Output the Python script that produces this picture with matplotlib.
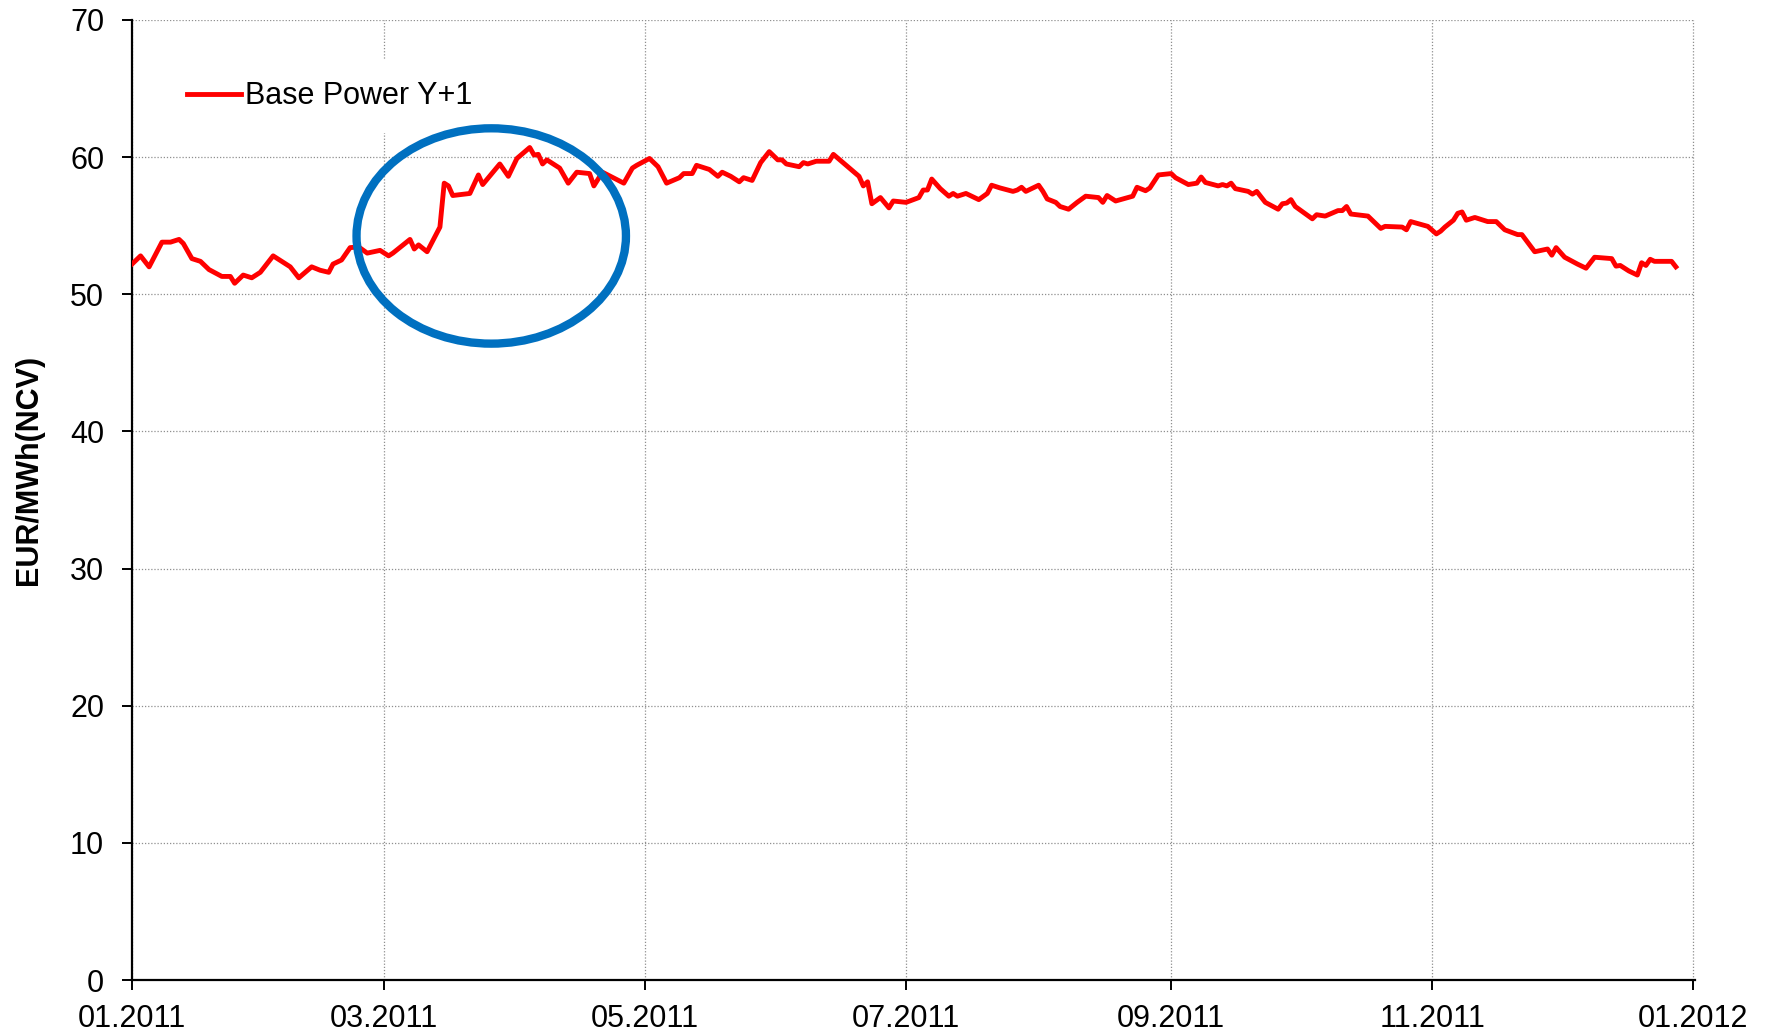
import matplotlib
matplotlib.use("Agg")
import matplotlib.pyplot as plt
import matplotlib.dates as mdates
from matplotlib.patches import Ellipse
import numpy as np
import datetime as dt

plt.rcParams['font.family'] = ['Liberation Sans', 'DejaVu Sans']

# ---- data ----
base_date = "2011-01-01"
day_offsets = [0, 2, 4, 7, 9, 11, 12, 14, 16, 18, 21, 23, 24, 26, 28, 30, 33, 37, 39, 42,
               44, 46, 47, 49, 51, 53, 55, 58, 60, 61, 63, 65, 66, 67, 69, 72, 73, 74, 75, 79,
               81, 82, 86, 88, 90, 93, 94, 95, 96, 97, 100, 102, 104, 107, 108, 110, 115, 117, 118, 121,
               123, 125, 128, 129, 131, 132, 135, 137, 138, 140, 142, 143, 145, 147, 149, 151, 152, 153, 156, 157,
               158, 160, 163, 164, 167, 170, 171, 172, 173, 175, 177, 178, 181, 184, 185, 186, 187, 189, 191, 192,
               193, 195, 198, 200, 201, 203, 206, 207, 208, 209, 212, 213, 214, 216, 217, 219, 221, 223, 226, 227,
               228, 230, 234, 235, 237, 238, 240, 243, 244, 247, 249, 250, 251, 254, 255, 256, 257, 258, 261, 262,
               263, 265, 268, 269, 270, 271, 272, 276, 277, 279, 282, 283, 284, 285, 289, 292, 293, 297, 298, 299,
               303, 305, 306, 307, 309, 310, 311, 312, 314, 317, 319, 321, 324, 325, 328, 331, 332, 333, 335, 338,
               340, 342, 346, 347, 348, 350, 352, 353, 354, 355, 356, 360, 361]
base_power_y1 = [52.2, 52.8, 52.0, 53.8, 53.8, 54.0, 53.7, 52.6, 52.4, 51.8, 51.3, 51.3, 50.8, 51.4, 51.2, 51.6, 52.8, 52.0, 51.2, 52.0,
                 51.75, 51.6, 52.2, 52.5, 53.4, 53.45, 53.0, 53.2, 52.8, 53.0, 53.5, 54.0, 53.3, 53.6, 53.1, 54.9, 58.1, 57.9, 57.2, 57.35,
                 58.7, 58.0, 59.5, 58.6, 59.9, 60.7, 60.15, 60.2, 59.5, 59.8, 59.2, 58.1, 58.9, 58.8, 57.9, 58.9, 58.1, 59.2, 59.4, 59.9,
                 59.3, 58.1, 58.5, 58.8, 58.8, 59.4, 59.1, 58.6, 58.9, 58.6, 58.2, 58.5, 58.3, 59.6, 60.4, 59.8, 59.8, 59.5, 59.3, 59.6,
                 59.5, 59.7, 59.7, 60.2, 59.4, 58.6, 57.9, 58.2, 56.6, 57.05, 56.3, 56.8, 56.7, 57.05, 57.6, 57.6, 58.4, 57.7, 57.15, 57.35,
                 57.15, 57.35, 56.9, 57.35, 57.95, 57.75, 57.5, 57.6, 57.8, 57.5, 57.95, 57.5, 56.95, 56.7, 56.4, 56.2, 56.7, 57.15, 57.05, 56.7,
                 57.2, 56.8, 57.15, 57.8, 57.55, 57.75, 58.7, 58.8, 58.5, 58.0, 58.1, 58.55, 58.15, 57.9, 58.0, 57.9, 58.1, 57.7, 57.5, 57.3,
                 57.5, 56.7, 56.2, 56.6, 56.65, 56.9, 56.4, 55.5, 55.8, 55.7, 56.1, 56.1, 56.4, 55.85, 55.7, 54.8, 54.95, 54.9, 54.7, 55.3,
                 54.95, 54.4, 54.6, 54.9, 55.4, 55.9, 56.0, 55.4, 55.6, 55.3, 55.3, 54.7, 54.35, 54.35, 53.1, 53.3, 52.85, 53.4, 52.7, 52.2,
                 51.9, 52.7, 52.6, 52.05, 52.1, 51.7, 51.4, 52.3, 52.1, 52.55, 52.4, 52.4, 52.0]
series_label = "Base Power Y+1"
y_label = "EUR/MWh(NCV)"
x_tick_dates = ["2011-01-01", "2011-03-01", "2011-05-01", "2011-07-01", "2011-09-01", "2011-11-01", "2012-01-01"]
y_ticks = [0, 10, 20, 30, 40, 50, 60, 70]
# highlighted region (ellipse): centre date, centre value, width days, height value
highlight_center = ("2011-03-26", 54.25)
highlight_size = (63, 15.7)

# ---- build ----
b = dt.datetime.strptime(base_date, "%Y-%m-%d")
dates = [b + dt.timedelta(days=d) for d in day_offsets]
xt = [dt.datetime.strptime(s, "%Y-%m-%d") for s in x_tick_dates]

fig = plt.figure(figsize=(17.72, 10.34), dpi=100)
ax = fig.add_axes([0.0745, 0.0522, 0.8821, 0.9285])

ax.plot(dates, base_power_y1, color='#FF0000', lw=3.5, label=series_label, zorder=3,
        solid_joinstyle='round')

cx = mdates.date2num(dt.datetime.strptime(highlight_center[0], "%Y-%m-%d"))
ell = Ellipse((cx, highlight_center[1]), highlight_size[0], highlight_size[1],
              fill=False, edgecolor='#0070C0', lw=6.0, zorder=6)
ax.add_patch(ell)

ax.set_ylim(0, 70)
ax.set_yticks(y_ticks)
ax.set_xlim(mdates.date2num(xt[0]), mdates.date2num(xt[-1]) + 0.5)
ax.set_xticks(xt)
ax.xaxis.set_major_formatter(mdates.DateFormatter('%m.%Y'))

for s in ['top', 'right']:
    ax.spines[s].set_visible(False)
for s in ['left', 'bottom']:
    ax.spines[s].set_linewidth(1.6)
    ax.spines[s].set_color('black')

ax.tick_params(axis='both', direction='out', length=7, width=1.4, labelsize=22, colors='black')
ax.tick_params(axis='y', pad=13)
ax.tick_params(axis='x', pad=10)

ax.grid(True, color='#8f8f8f', lw=0.9, linestyle=(0, (1, 1.5)))
ax.set_axisbelow(True)

ax.set_ylabel(y_label, fontsize=22, fontweight='bold')
ax.yaxis.set_label_coords(-0.056, 0.531)

leg = ax.legend(loc='center left', bbox_to_anchor=(0.0215, 0.9205), borderaxespad=0,
                borderpad=0.7, handlelength=1.77, handletextpad=0.13, fontsize=22,
                frameon=True, fancybox=False)
leg.set_zorder(5)
leg.get_frame().set_edgecolor('none')
leg.get_frame().set_facecolor('white')
leg.get_frame().set_alpha(1)
leg.get_lines()[0].set_linewidth(3.5)

fig.savefig('out.png', dpi=100, facecolor='white')
